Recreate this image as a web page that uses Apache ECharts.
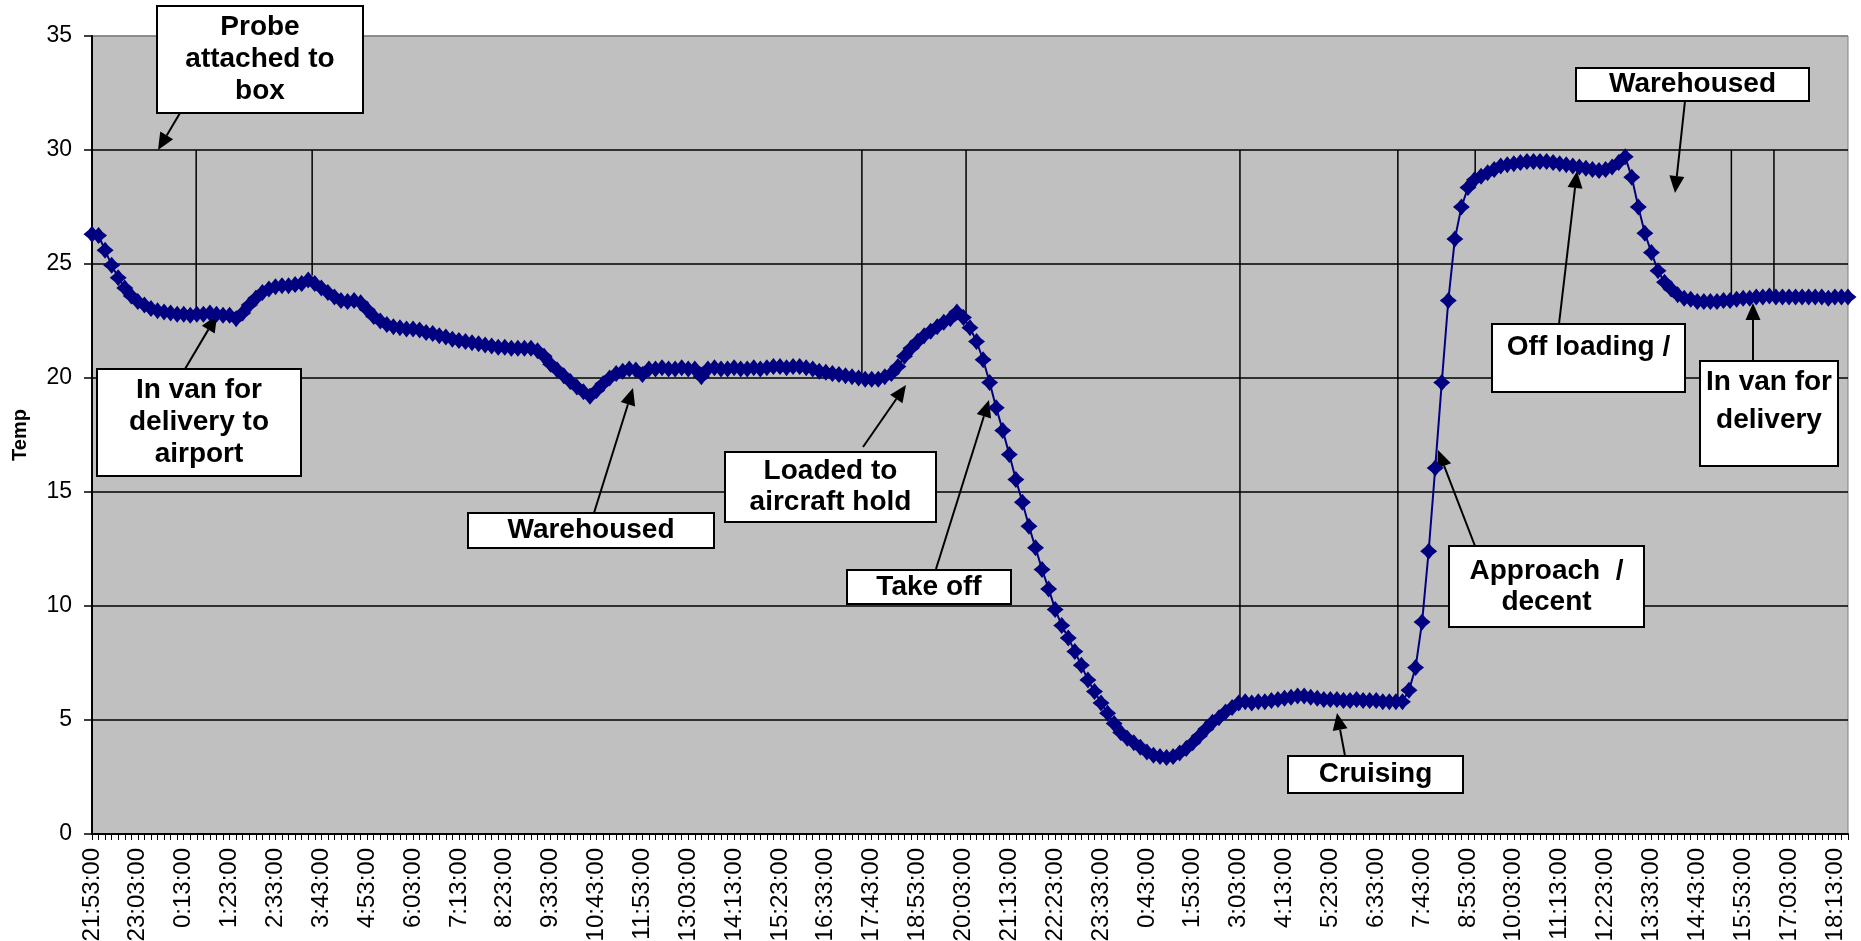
<!DOCTYPE html>
<html>
<head>
<meta charset="utf-8">
<title>Temp</title>
<script src="https://cdn.jsdelivr.net/npm/echarts@6/dist/echarts.min.js"></script>
<style>
  html, body { margin: 0; padding: 0; background: #fff; }
  #chart { width: 1861px; height: 941px; }
</style>
</head>
<body>
<div id="chart"></div>
<script>
// logger readings, one every 10 minutes, first one at 21:53:00
const startTime = '21:53:00'
const stepMinutes = 10

const temps = [
  26.3, 26.25, 25.6, 24.95, 24.4, 23.95, 23.6, 23.35, 23.2, 23.05,
  22.95, 22.9, 22.85, 22.8, 22.8, 22.75, 22.8, 22.8, 22.85, 22.8,
  22.75, 22.75, 22.6, 22.85, 23.2, 23.5, 23.75, 23.9, 24.0, 24.05,
  24.05, 24.1, 24.15, 24.3, 24.15, 23.95, 23.75, 23.55, 23.4, 23.35,
  23.4, 23.3, 23.0, 22.7, 22.5, 22.35, 22.25, 22.2, 22.15, 22.15,
  22.1, 22.0, 21.95, 21.85, 21.8, 21.7, 21.65, 21.6, 21.55, 21.5,
  21.45, 21.4, 21.35, 21.35, 21.3, 21.3, 21.3, 21.3, 21.2, 20.95,
  20.6, 20.35, 20.1, 19.85, 19.6, 19.4, 19.2, 19.45, 19.75, 20.0,
  20.2, 20.3, 20.4, 20.35, 20.15, 20.4, 20.4, 20.45, 20.4, 20.4,
  20.45, 20.4, 20.4, 20.05, 20.4, 20.45, 20.4, 20.4, 20.45, 20.4,
  20.4, 20.45, 20.4, 20.45, 20.5, 20.5, 20.45, 20.5, 20.5, 20.45,
  20.4, 20.3, 20.25, 20.2, 20.15, 20.1, 20.05, 20.0, 19.95, 19.95,
  19.95, 20.05, 20.2, 20.5, 20.95, 21.3, 21.6, 21.85, 22.05, 22.25,
  22.45, 22.6, 22.9, 22.65, 22.2, 21.6, 20.8, 19.8, 18.7, 17.7,
  16.65, 15.55, 14.55, 13.5, 12.55, 11.6, 10.75, 9.85, 9.15, 8.6,
  8.0, 7.4, 6.75, 6.25, 5.75, 5.3, 4.85, 4.45, 4.2, 4.0,
  3.8, 3.6, 3.45, 3.4, 3.35, 3.4, 3.55, 3.75, 4.0, 4.3,
  4.6, 4.9, 5.1, 5.35, 5.55, 5.75, 5.8, 5.75, 5.8, 5.8,
  5.85, 5.9, 5.95, 6.0, 6.05, 6.05, 6.0, 5.95, 5.9, 5.9,
  5.9, 5.85, 5.85, 5.9, 5.85, 5.85, 5.85, 5.8, 5.8, 5.8,
  5.8, 6.3, 7.3, 9.3, 12.4, 16.05, 19.8, 23.4, 26.1, 27.5,
  28.35, 28.7, 28.85, 29.0, 29.15, 29.3, 29.35, 29.4, 29.45, 29.5,
  29.5, 29.5, 29.5, 29.45, 29.4, 29.35, 29.3, 29.25, 29.2, 29.15,
  29.1, 29.15, 29.25, 29.45, 29.7, 28.8, 27.5, 26.35, 25.5, 24.7,
  24.2, 23.9, 23.65, 23.5, 23.45, 23.35, 23.35, 23.35, 23.35, 23.4,
  23.4, 23.45, 23.5, 23.5, 23.55, 23.55, 23.6, 23.55, 23.55, 23.55,
  23.55, 23.55, 23.55, 23.55, 23.55, 23.5, 23.55, 23.55, 23.55
]

// event markers: vertical line from the 30 gridline down to the curve
const eventAt = [15.9, 33.6, 117.5, 133.4, 175.2, 199.3, 211.1, 250.2, 256.7] // reading index
const eventTo = [22.8, 24.5, 19.8, 22.85, 5.45, 6.0, 28.5, 23.35, 23.65]      // temp where it stops

const yTicks = [0, 5, 10, 15, 20, 25, 30, 35]

// time labels of the readings
const times = []
let [h0, m0] = startTime.split(':').map(Number)
for (let i = 0; i < temps.length; i++) {
  let t = h0 * 60 + m0 + i * stepMinutes
  let hh = Math.floor(t / 60) % 24
  let mm = t % 60
  times.push(hh + ':' + (mm < 10 ? '0' : '') + mm + ':00')
}

// callouts (pixel layout of the text boxes and their arrows)
const notes = [
  { text: 'Probe\nattached to\nbox', box: [157, 6, 206, 107], lh: 32, from: [180, 113], to: [158, 150] },
  { text: 'In van for\ndelivery to\nairport', box: [97, 369, 204, 107], lh: 32, from: [185, 369], to: [217, 315] },
  { text: 'Warehoused', box: [468, 513, 246, 35], lh: 32, from: [594, 513], to: [633, 388] },
  { text: 'Loaded to\naircraft hold', box: [725, 452, 211, 70], lh: 31, from: [863, 447], to: [906, 385] },
  { text: 'Take off', box: [847, 570, 164, 34], lh: 32, from: [936, 569], to: [989, 400] },
  { text: 'Approach  /\ndecent', box: [1449, 546, 195, 81], lh: 31, from: [1475, 546], to: [1438, 450] },
  { text: 'Cruising', box: [1288, 756, 175, 37], lh: 32, from: [1345, 756], to: [1337, 713] },
  { text: 'Off loading /', box: [1492, 324, 193, 68], lh: 31, pad: 8, from: [1559, 324], to: [1577, 171] },
  { text: 'Warehoused', box: [1576, 68, 233, 33], lh: 32, from: [1685, 101], to: [1675, 193] },
  { text: 'In van for\ndelivery', box: [1700, 361, 138, 105], lh: 38, pad: 2, from: [1753, 361], to: [1753, 303] }
]

const FONT = '"Liberation Sans", Arial, sans-serif'
// excel style diamond, sides a touch pinched
const diamond = 'path://M0,-10 Q4,-4 10,0 Q4,4 0,10 Q-4,4 -10,0 Q-4,-4 0,-10 Z'

function arrow(from, to) {
  let dx = to[0] - from[0], dy = to[1] - from[1]
  let len = Math.sqrt(dx * dx + dy * dy)
  let ux = dx / len, uy = dy / len
  let hl = 17, hw = 7.5
  let bx = to[0] - ux * hl, by = to[1] - uy * hl
  return [
    { type: 'line', silent: true, shape: { x1: from[0], y1: from[1], x2: bx, y2: by },
      style: { stroke: '#000', lineWidth: 2 } },
    { type: 'polygon', silent: true,
      shape: { points: [to, [bx - uy * hw, by + ux * hw], [bx + uy * hw, by - ux * hw]] },
      style: { fill: '#000' } }
  ]
}

function callouts() {
  let out = []
  notes.forEach(n => {
    let [x, y, w, hgt] = n.box
    let lines = n.text.split('\n').length
    let pad = n.pad != null ? n.pad : (hgt - lines * n.lh) / 2
    out = out.concat(arrow(n.from, n.to))
    out.push({ type: 'rect', silent: true, z: 100, shape: { x: x, y: y, width: w, height: hgt },
      style: { fill: '#fff', stroke: '#000', lineWidth: 2 } })
    out.push({ type: 'text', silent: true, z: 101, x: x + w / 2, y: y + pad,
      style: { text: n.text, fill: '#000', fontSize: 28, fontWeight: 'bold', fontFamily: FONT,
        align: 'center', verticalAlign: 'top', lineHeight: n.lh } })
  })
  return out
}

let myChart = echarts.init(document.getElementById('chart'))

let option = {
  animation: false,
  backgroundColor: '#fff',
  textStyle: { fontFamily: FONT },
  grid: {
    left: 92, right: 13, top: 36, bottom: 107,
    outerBoundsMode: 'none', // labels run off the bottom edge like the original
    show: true, backgroundColor: '#C0C0C0', borderColor: '#808080', borderWidth: 1
  },
  xAxis: [{
    type: 'category',
    data: times,
    boundaryGap: false,
    axisLine: { lineStyle: { color: '#000', width: 2 } },
    axisTick: { interval: 0, length: 6, lineStyle: { color: '#000', width: 1 } },
    axisLabel: { interval: 6, rotate: 90, fontSize: 24, color: '#000', margin: 14, fontFamily: FONT },
    splitLine: { show: false }
  }, {
    // plain index axis, used to place the event lines between readings
    type: 'value', min: 0, max: temps.length - 1, show: false
  }],
  yAxis: {
    type: 'value',
    min: yTicks[0], max: yTicks[yTicks.length - 1], interval: 5,
    name: 'Temp',
    nameLocation: 'middle',
    nameGap: 62,
    nameTextStyle: { fontSize: 20, fontWeight: 'bold', color: '#000', fontFamily: FONT },
    axisLine: { show: true, lineStyle: { color: '#000', width: 2 } },
    axisTick: { show: true, length: 8, lineStyle: { color: '#000', width: 1.5 } },
    axisLabel: { fontSize: 23, color: '#000', margin: 20, fontFamily: FONT },
    splitLine: { show: true, lineStyle: { color: ['#000', '#000', '#000', '#000', '#000', '#000', '#000', '#808080'], width: 1.5 } }
  },
  series: [{
    type: 'custom',
    xAxisIndex: 1,
    silent: true,
    z: 1,
    data: eventAt.map((x, i) => [x, eventTo[i]]),
    renderItem: function (params, api) {
      let a = api.coord([api.value(0), 30])
      let b = api.coord([api.value(0), api.value(1)])
      return { type: 'line', shape: { x1: a[0], y1: a[1], x2: b[0], y2: b[1] },
        style: { stroke: '#000', lineWidth: 1.5 } }
    }
  }, {
    name: 'Temp',
    type: 'line',
    data: temps,
    z: 3,
    symbol: diamond,
    symbolSize: 17,
    showAllSymbol: true,
    lineStyle: { color: '#000080', width: 2 },
    itemStyle: { color: '#000080' }
  }],
  graphic: callouts()
}

myChart.setOption(option)
window.onresize = function () {
  myChart.resize()
}
</script>
</body>
</html>
